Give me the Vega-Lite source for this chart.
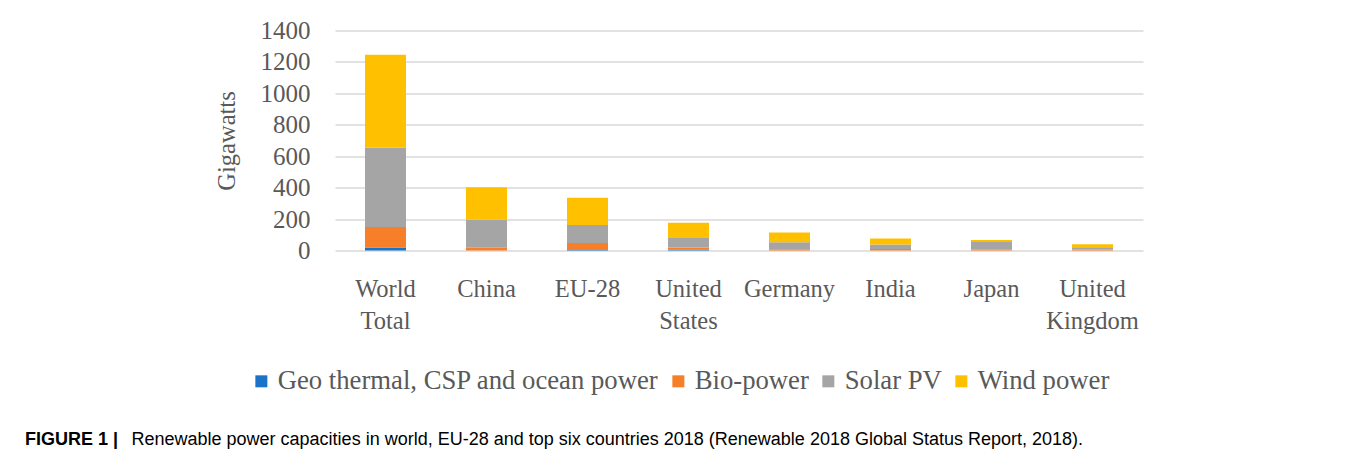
{
  "$schema": "https://vega.github.io/schema/vega-lite/v6.json",
  "width": 808,
  "height": 220,
  "autosize": {"type": "none"},
  "padding": {"left": 335, "top": 30.5, "right": 213, "bottom": 210.5},
  "background": "white",
  "config": {
    "view": {"stroke": null},
    "font": "Liberation Serif"
  },
  "title": {
    "text": "FIGURE 1 |",
    "orient": "bottom",
    "anchor": "start",
    "frame": "group",
    "font": "Liberation Sans",
    "fontSize": 18,
    "fontWeight": "bold",
    "color": "#000000",
    "baseline": "alphabetic",
    "offset": -4,
    "dx": -310
  },
  "data": {
    "values": [
      {"region": "World Total", "source": "Geo thermal, CSP and ocean power", "gw": 19},
      {"region": "World Total", "source": "Bio-power", "gw": 130},
      {"region": "World Total", "source": "Solar PV", "gw": 505},
      {"region": "World Total", "source": "Wind power", "gw": 591},
      {"region": "China", "source": "Geo thermal, CSP and ocean power", "gw": 0},
      {"region": "China", "source": "Bio-power", "gw": 18},
      {"region": "China", "source": "Solar PV", "gw": 178},
      {"region": "China", "source": "Wind power", "gw": 207},
      {"region": "EU-28", "source": "Geo thermal, CSP and ocean power", "gw": 3},
      {"region": "EU-28", "source": "Bio-power", "gw": 45},
      {"region": "EU-28", "source": "Solar PV", "gw": 115},
      {"region": "EU-28", "source": "Wind power", "gw": 173},
      {"region": "United States", "source": "Geo thermal, CSP and ocean power", "gw": 6},
      {"region": "United States", "source": "Bio-power", "gw": 13},
      {"region": "United States", "source": "Solar PV", "gw": 61},
      {"region": "United States", "source": "Wind power", "gw": 97},
      {"region": "Germany", "source": "Geo thermal, CSP and ocean power", "gw": 0},
      {"region": "Germany", "source": "Bio-power", "gw": 8},
      {"region": "Germany", "source": "Solar PV", "gw": 45},
      {"region": "Germany", "source": "Wind power", "gw": 61},
      {"region": "India", "source": "Geo thermal, CSP and ocean power", "gw": 0},
      {"region": "India", "source": "Bio-power", "gw": 9},
      {"region": "India", "source": "Solar PV", "gw": 29},
      {"region": "India", "source": "Wind power", "gw": 38},
      {"region": "Japan", "source": "Geo thermal, CSP and ocean power", "gw": 0.5},
      {"region": "Japan", "source": "Bio-power", "gw": 4},
      {"region": "Japan", "source": "Solar PV", "gw": 55},
      {"region": "Japan", "source": "Wind power", "gw": 7},
      {"region": "United Kingdom", "source": "Geo thermal, CSP and ocean power", "gw": 0},
      {"region": "United Kingdom", "source": "Bio-power", "gw": 7},
      {"region": "United Kingdom", "source": "Solar PV", "gw": 14},
      {"region": "United Kingdom", "source": "Wind power", "gw": 19}
    ]
  },
  "transform": [
    {"calculate": "indexof(['Geo thermal, CSP and ocean power','Bio-power','Solar PV','Wind power'], datum.source)", "as": "stackIndex"}
  ],
  "mark": {"type": "bar"},
  "encoding": {
    "x": {
      "field": "region",
      "type": "nominal",
      "sort": ["World Total", "China", "EU-28", "United States", "Germany", "India", "Japan", "United Kingdom"],
      "scale": {"paddingInner": 0.594, "paddingOuter": 0.297},
      "axis": {
        "title": "Renewable power capacities in world, EU-28 and top six countries 2018 (Renewable 2018 Global Status Report, 2018).",
        "titleFont": "Liberation Sans",
        "titleFontSize": 18,
        "titleFontWeight": "normal",
        "titleColor": "#000000",
        "titleX": -204,
        "titleY": 194,
        "titleAlign": "left",
        "titleBaseline": "alphabetic",
        "labelAngle": 0,
        "labelExpr": "split(datum.label, ' ')",
        "labelFont": "Liberation Serif",
        "labelFontSize": 24.5,
        "labelColor": "#595959",
        "labelLineHeight": 32,
        "labelPadding": 27,
        "labelBaseline": "top",
        "ticks": false,
        "domain": false,
        "grid": false
      }
    },
    "y": {
      "field": "gw",
      "type": "quantitative",
      "stack": "zero",
      "scale": {"domain": [0, 1400], "nice": false},
      "axis": {
        "title": "Gigawatts",
        "titleFont": "Liberation Serif",
        "titleFontSize": 24.5,
        "titleFontWeight": "normal",
        "titleColor": "#595959",
        "titlePadding": 21,
        "values": [0, 200, 400, 600, 800, 1000, 1200, 1400],
        "format": "d",
        "labelFont": "Liberation Serif",
        "labelFontSize": 25,
        "labelColor": "#595959",
        "labelPadding": 25,
        "ticks": false,
        "domain": false,
        "grid": true,
        "gridColor": "#d9d9d9",
        "gridWidth": 1.5
      }
    },
    "color": {
      "field": "source",
      "type": "nominal",
      "scale": {
        "domain": ["Geo thermal, CSP and ocean power", "Bio-power", "Solar PV", "Wind power"],
        "range": ["#1c72c9", "#f77f2a", "#a5a5a5", "#ffc000"]
      },
      "legend": {
        "title": null,
        "orient": "none",
        "direction": "horizontal",
        "legendX": -87,
        "legendY": 337,
        "symbolType": "square",
        "symbolSize": 144,
        "symbolStrokeWidth": 0,
        "labelFont": "Liberation Serif",
        "labelFontSize": 26.7,
        "labelColor": "#595959",
        "labelOffset": 3,
        "columnPadding": 6,
        "labelLimit": 600
      }
    },
    "order": {"field": "stackIndex", "type": "quantitative", "sort": "ascending"}
  }
}
